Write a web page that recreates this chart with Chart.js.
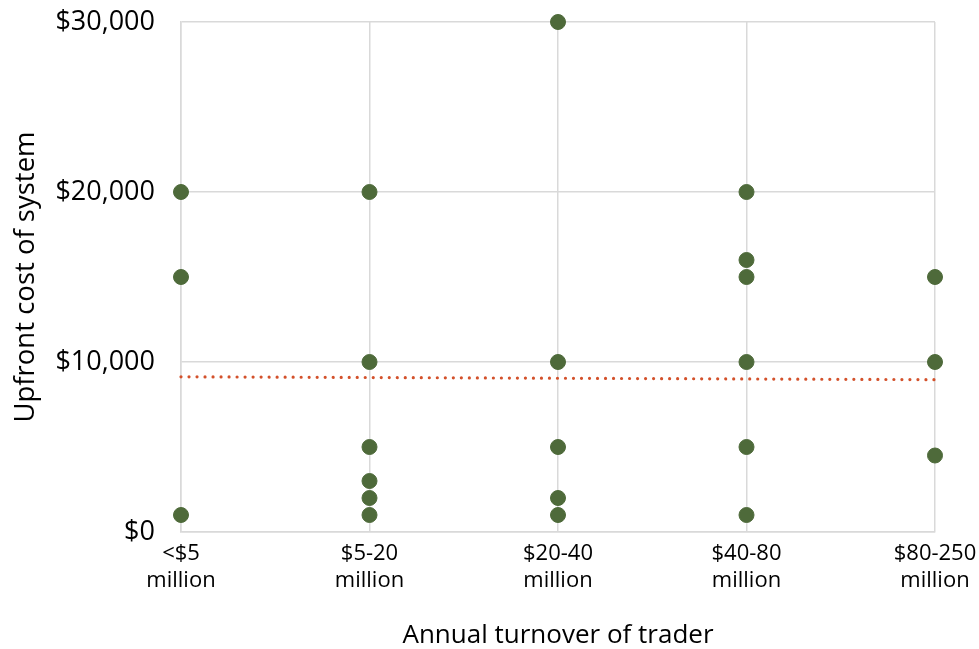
<!DOCTYPE html>
<html>
<head>
<meta charset="utf-8">
<script src="https://cdn.jsdelivr.net/npm/chart.js@4/dist/chart.umd.min.js"></script>
<style>
  html, body { margin: 0; padding: 0; background: #ffffff; }
  #wrap { width: 979px; height: 649px; }
</style>
</head>
<body>
<div id="wrap"><canvas id="c" width="979" height="649"></canvas></div>
<script>
// Turnover bands, shown along the x axis at positions 1..5
const categories = [["<$5", "million"], ["$5-20", "million"], ["$20-40", "million"], ["$40-80", "million"], ["$80-250", "million"]];
// Upfront cost reported by each trader, grouped by turnover band
const costLt5 = [20000, 15000, 1000];
const cost5to20 = [20000, 10000, 5000, 3000, 2000, 1000];
const cost20to40 = [30000, 10000, 5000, 2000, 1000];
const cost40to80 = [20000, 16000, 15000, 10000, 5000, 1000];
const cost80to250 = [15000, 10000, 4500];
// Linear trend values at the first and last band
const trendEnds = [9130, 8960];
const yTicks = [0, 10000, 20000, 30000];

const groups = [costLt5, cost5to20, cost20to40, cost40to80, cost80to250];
const points = [];
groups.forEach((g, i) => g.forEach(v => points.push({ x: i + 1, y: v })));

const FONT = "'Open Sans', 'Noto Sans', sans-serif";

new Chart(document.getElementById('c'), {
  type: 'scatter',
  data: {
    datasets: [
      {
        label: 'Upfront cost',
        data: points,
        backgroundColor: '#4E6A3A',
        borderColor: '#4E6A3A',
        pointRadius: 7.5,
        pointHoverRadius: 7.5,
        clip: false,
        order: 1
      },
      {
        label: 'Trend',
        type: 'line',
        data: [{ x: 1, y: trendEnds[0] }, { x: 5, y: trendEnds[1] }],
        borderColor: '#D3512B',
        borderWidth: 3.2,
        borderDash: [0.01, 8],
        borderCapStyle: 'round',
        pointRadius: 0,
        fill: false,
        clip: false,
        order: 2
      }
    ]
  },
  options: {
    responsive: false,
    animation: false,
    layout: { padding: { top: 22, right: 44, left: 0, bottom: 0 } },
    plugins: { legend: { display: false }, tooltip: { enabled: false } },
    scales: {
      x: {
        type: 'linear',
        min: 1,
        max: 5,
        afterFit: s => { s.height = 117; s.paddingLeft = 0; s.paddingRight = 0; },
        afterBuildTicks: s => { s.ticks = categories.map((_, i) => ({ value: i + 1 })); },
        grid: { color: '#D9D9D9', lineWidth: 1.5, drawTicks: false },
        border: { color: '#D9D9D9', width: 1.5 },
        ticks: {
          padding: 8,
          maxRotation: 0,
          autoSkip: false,
          color: '#000000',
          font: { family: FONT, size: 22, lineHeight: 1.23 },
          callback: v => categories[v - 1]
        },
        title: {
          display: true,
          text: 'Annual turnover of trader',
          color: '#000000',
          font: { family: FONT, size: 26, lineHeight: 1 },
          padding: { top: 0, bottom: 0 }
        }
      },
      y: {
        min: 0,
        max: 30000,
        afterFit: s => { s.width = 181; s.paddingTop = 0; s.paddingBottom = 0; },
        afterBuildTicks: s => { s.ticks = yTicks.map(v => ({ value: v })); },
        grid: { color: '#D9D9D9', lineWidth: 1.5, drawTicks: false },
        border: { color: '#D9D9D9', width: 1.5 },
        ticks: {
          padding: 26,
          color: '#000000',
          font: { family: FONT, size: 27 },
          callback: v => '$' + v.toLocaleString('en-US')
        },
        title: {
          display: true,
          text: 'Upfront cost of system',
          color: '#000000',
          font: { family: FONT, size: 27.5 },
          padding: { top: 10, bottom: 0 }
        }
      }
    }
  }
});
</script>
</body>
</html>
